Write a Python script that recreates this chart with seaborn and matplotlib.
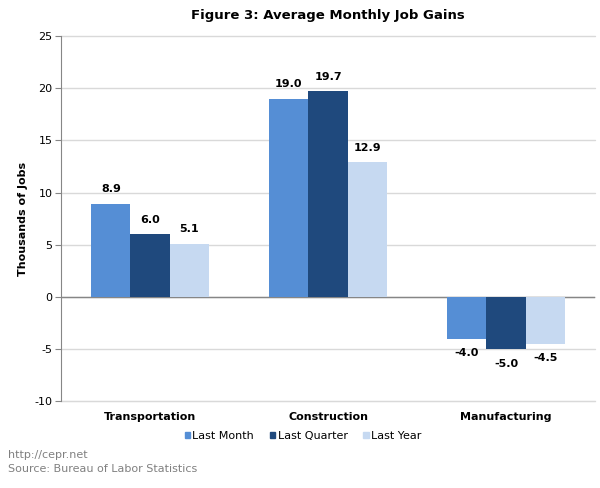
import pandas as pd
import matplotlib.pyplot as plt
import seaborn as sb

categories = ['Transportation', 'Construction', 'Manufacturing']
last_month = [8.9, 19.0, -4.0]
last_quarter = [6.0, 19.7, -5.0]
last_year = [5.1, 12.9, -4.5]
series_names = ['Last Month', 'Last Quarter', 'Last Year']
colors = ['#558ED5', '#1F497D', '#C6D9F1']

df = pd.DataFrame({
    'category': categories * 3,
    'series': [s for s in series_names for _ in categories],
    'value': last_month + last_quarter + last_year,
})

sb.set_style('white')
plt.rcParams['font.family'] = ['DejaVu Sans']
plt.rcParams['axes.unicode_minus'] = False
plt.rcParams['text.color'] = 'black'
plt.rcParams['xtick.color'] = 'black'
plt.rcParams['ytick.color'] = 'black'
plt.rcParams['axes.labelcolor'] = 'black'

fig = plt.figure(figsize=(6, 4.88), dpi=100)
ax = fig.add_axes([0.1017, 0.178, 0.89, 0.748])

sb.barplot(data=df, x='category', y='value', hue='series', palette=colors,
           width=0.66, saturation=1, linewidth=0, ax=ax, legend=False)

for c in ax.containers:
    ax.bar_label(c, fmt='%.1f', padding=7, fontsize=8, fontweight='bold')

ax.set_ylim(-10, 25)
ax.set_yticks(range(-10, 26, 5))
ax.set_xlim(-0.5, 2.5)
ax.yaxis.grid(True, color='#d9d9d9', linewidth=1, clip_on=False)
ax.set_axisbelow(True)
ax.axhline(0, color='#868686', linewidth=1, zorder=0.8)
for s in ['top', 'right']:
    ax.spines[s].set_visible(False)
ax.spines['bottom'].set_color('#d9d9d9')
ax.spines['left'].set_color('#868686')
ax.spines['left'].set_zorder(3)
ax.tick_params(axis='y', length=4, color='#868686', labelsize=8, pad=2, left=True)
ax.tick_params(axis='x', length=0, labelsize=8, pad=8)
for lbl in ax.get_xticklabels():
    lbl.set_fontweight('bold')
ax.set_xlabel('')
ax.set_ylabel('Thousands of Jobs', fontsize=8, fontweight='bold', labelpad=5)
ax.set_title('Figure 3: Average Monthly Job Gains', fontsize=9.5, fontweight='bold', pad=12)

handles = [plt.Rectangle((0, 0), 1, 1, color=c) for c in colors]
fig.legend(handles, series_names, loc='center', bbox_to_anchor=(0.505, 0.107), ncol=3,
           frameon=False, fontsize=8, handlelength=0.5, handleheight=0.5,
           handletextpad=0.2, columnspacing=1.4)

fig.text(0.013, 0.062, 'http://cepr.net', fontsize=8, color='#808080')
fig.text(0.013, 0.032, 'Source: Bureau of Labor Statistics', fontsize=8, color='#808080')

fig.savefig('out.png', dpi=100)
